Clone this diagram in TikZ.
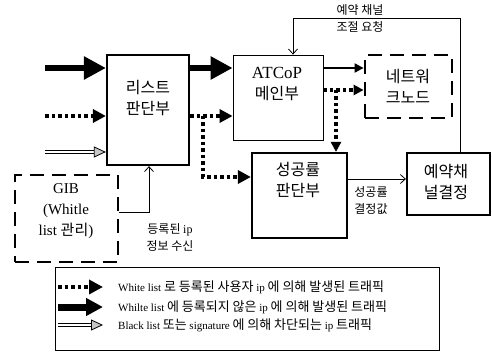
\documentclass[tikz,border=0pt]{standalone}
\usepackage{fontspec}
\setmainfont{Liberation Serif}
\newfontfamily\kr{Noto Sans CJK KR}
\usetikzlibrary{arrows.meta}
\newcommand\legkr[1]{{\kr\fontsize{13}{15}\selectfont #1}}
\tikzset{
  blk/.style={draw, line width=2.2pt, inner sep=0pt},
  thinblk/.style={draw, line width=0.8pt, inner sep=0pt},
  dashblk/.style={draw, line width=2.8pt, dash pattern=on 14pt off 8pt, inner sep=0pt},
  lbl/.style={font=\kr\fontsize{16}{21}\selectfont, align=center, inner sep=0pt},
  small/.style={font=\kr\fontsize{12}{17}\selectfont, align=center, inner sep=0pt},
  legtxt/.style={font=\fontsize{11}{13}\selectfont, anchor=west, inner sep=0pt},
  fat/.style={line width=6pt, -{Triangle[length=22pt,width=22pt]}},
  dots/.style={line width=3.5pt, dash pattern=on 3.5pt off 3pt, -{Triangle[length=13pt,width=13pt]}},
  hollow/.style={double=white, double distance=1.6pt, line width=0.9pt,
    -{Triangle[open,fill=gray!45,length=12pt,width=11pt,line width=0.8pt]}},
  feed/.style={line width=0.8pt, -{Straight Barb[length=5pt,width=9pt]}},
}
\begin{document}
\begin{tikzpicture}[x=1pt,y=-1pt]
\useasboundingbox (0,0) rectangle (492,352);
% blocks
\node[blk, minimum width=82pt, minimum height=110pt] (list) at (148,110) {};
\node[lbl] (listtxt) at (148,98) {리스트\\판단부};
\node[thinblk, minimum width=90pt, minimum height=85pt] (atcop) at (278,97.5) {};
\node[lbl] (atcoptxt) at (277,84) {{\rmfamily\fontsize{17}{21}\selectfont ATCoP}\\메인부};
\node[dashblk, minimum width=87pt, minimum height=63pt] (net) at (408.5,86.5) {};
\node[lbl] (nettxt) at (408,86) {네트워\\크노드};
\node[blk, minimum width=95pt, minimum height=85pt] (rate) at (299.5,195.5) {};
\node[lbl] (ratetxt) at (298,180) {성공률\\판단부};
\node[blk, minimum width=83pt, minimum height=62pt] (resv) at (448.5,184) {};
\node[lbl] (resvtxt) at (446,182) {예약채\\널결정};
\node[dashblk, minimum width=103pt, minimum height=87pt] (gib) at (66.5,218.5) {};
\node[lbl, font=\fontsize{15}{21}\selectfont] (gibtxt) at (66,211) {GIB\\(Whitle\\list {\kr 관리})};

% incoming traffic
\coordinate (r1) at (45,68);
\coordinate (r2) at (45,116);
\coordinate (r3) at (45,152);
\coordinate (br) at (203,116);
\coordinate (d2) at (336,90);
\draw[fat] (r1) -- (list.west |- r1);
\draw[dots] (r2) -- (list.west |- r2);
\draw[hollow] (r3) -- (list.west |- r3);
\draw[fat] (list.east |- r1) -- (atcop.west |- r1);
\draw[dots] (list.east |- r2) -- (atcop.west |- r2);
\draw[dots] (br) |- ([yshift=18.5pt]rate.west);
\draw[line width=2pt, -{Triangle[length=9pt,width=9pt]}] (atcop.east |- r1) -- (net.west |- r1);
\draw[dots, -{Triangle[length=10pt,width=10pt]}] (atcop.east |- d2) -- (net.west |- d2);
\draw[dots, -{Triangle[length=10pt,width=10pt]}] (d2) -- (rate.north -| d2);

% control paths
\coordinate (s1) at (347,179);
\coordinate (fb1) at (460,18);
\coordinate (fb2) at (293,18);
\coordinate (g) at (149,212);
\draw[feed] (s1) -- (resv.west |- s1);
\node[small] (rateval) at (371,201) {성공률\\결정값};
\draw[feed] (resv.north -| fb1) -- (fb1) -- (fb2) -- (atcop.north -| fb2);
\node[small] (fbtxt) at (360,18.5) {예약 채널\\조절 요청};
\draw[feed] (gib.east |- g) -- (g) -- (list.south -| g);
\node[small] (gibval) at (170,238) {등록된 {\rmfamily ip}\\정보 수신};

% legend
\node[draw, line width=0.8pt, minimum width=384pt, minimum height=83pt, inner sep=0pt] (legend) at (247,308.5) {};
\coordinate (l1) at (58,287);
\coordinate (l2) at (58,307);
\coordinate (l3) at (58,325);
\draw[dots, -{Triangle[length=14pt,width=14pt]}] (l1) -- ++(45,0) coordinate (l1e);
\draw[line width=7pt, -{Triangle[length=17pt,width=17pt]}] (l2) -- ++(45,0) coordinate (l2e);
\draw[hollow] (l3) -- ++(45,0) coordinate (l3e);
\node[legtxt] (leg1) at (118,287) {White list \legkr{로 등록된 사용자} ip \legkr{에 의해 발생된 트래픽}};
\node[legtxt] (leg2) at (118,307) {Whilte list \legkr{에 등록되지 않은} ip \legkr{에 의해 발생된 트래픽}};
\node[legtxt] (leg3) at (118,325) {Black list \legkr{또는} signature \legkr{에 의해 차단되는} ip \legkr{트래픽}};
\end{tikzpicture}
\end{document}
